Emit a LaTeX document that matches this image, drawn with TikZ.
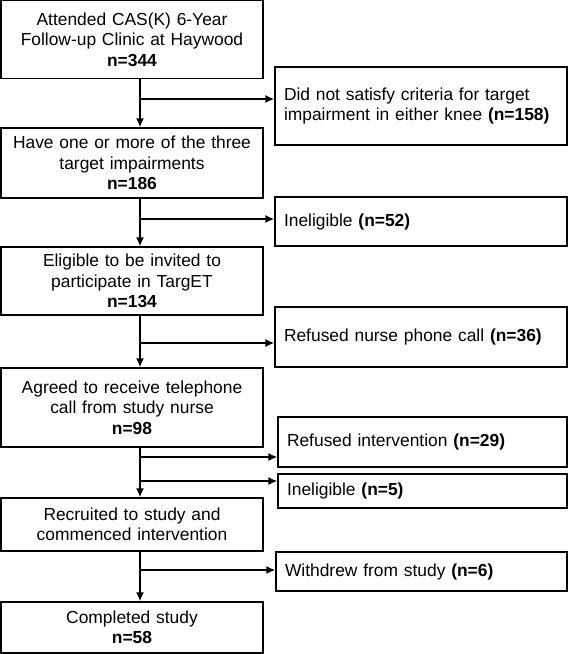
\documentclass[tikz,border=0pt]{standalone}
\usepackage{fontspec}
\setmainfont{Liberation Sans}
\usetikzlibrary{
  arrows.meta,
  calc,
  positioning
}
\tikzset{
  % For the stages that participants pass through.
  stage/.style={
    draw,
    line width=1.2pt,
    text width=256pt,
    inner xsep=3pt,
    inner ysep=0pt,
    align=center,
    font=\fontsize{17.4pt}{20.5pt}\selectfont},
%
  % For participants who drop out of the flow.
  dropout/.style={
    stage,
    text width=274pt,
    inner xsep=9pt,
    align=left},
%
  % For the arrows of the flow.
  flow/.style={
    line width=1.8pt,
    -{Latex[length=9pt, width=8pt]}}
}

\begin{document}
\begin{tikzpicture}[x=1pt,y=-1pt]
  \useasboundingbox (0,0) rectangle (568,654);

  % Main column.
  \node[stage, minimum height=78pt] (attended) at (132,39.5)
    {Attended CAS(K) 6-Year\\Follow-up Clinic at Haywood\\\textbf{n=344}};
  \node[stage, minimum height=70pt] (impaired) at (132,163)
    {Have one or more of the three\\target impairments\\\textbf{n=186}};
  \node[stage, minimum height=68pt] (eligible) at (132,281)
    {Eligible to be invited to\\participate in TargET\\\textbf{n=134}};
  \node[stage, minimum height=79pt] (agreed) at (132,407.5)
    {Agreed to receive telephone\\call from study nurse\\\textbf{n=98}};
  \node[stage, minimum height=53pt] (recruited) at (132,524.5)
    {Recruited to study and\\commenced intervention};
  \node[stage, minimum height=51pt] (completed) at (132,627.5)
    {Completed study\\\textbf{n=58}};

  % Side column.
  \node[dropout, minimum height=78pt] (nocriteria) at (421,106)
    {Did not satisfy criteria for target\\impairment in either knee \textbf{(n=158)}};
  \node[dropout, minimum height=49pt] (ineligibleA) at (421,221.5)
    {Ineligible \textbf{(n=52)}};
  \node[dropout, minimum height=60pt] (refusedcall) at (421,337)
    {Refused nurse phone call \textbf{(n=36)}};
  \node[dropout, text width=271pt, minimum height=50pt] (refusedint) at (422.5,442)
    {Refused intervention \textbf{(n=29)}};
  \node[dropout, text width=271pt, minimum height=34pt] (ineligibleB) at (422.5,491)
    {Ineligible \textbf{(n=5)}};
  \node[dropout, text width=273pt, minimum height=39pt] (withdrew) at (421.5,571.5)
    {Withdrew from study \textbf{(n=6)}};

  \coordinate (spine) at (140,0);

  \foreach \a/\b in {attended/impaired, impaired/eligible, eligible/agreed,
                     agreed/recruited, recruited/completed}
    {\draw[flow] (\a.south -| spine) -- (\b.north -| spine);}

  \foreach \y/\n in {99/nocriteria, 219/ineligibleA, 343/refusedcall,
                     457/refusedint, 481/ineligibleB, 570/withdrew}
    {\coordinate (branch-\n) at (140,\y);
     \draw[flow] (branch-\n) -- (branch-\n -| \n.west);}
\end{tikzpicture}
\end{document}
